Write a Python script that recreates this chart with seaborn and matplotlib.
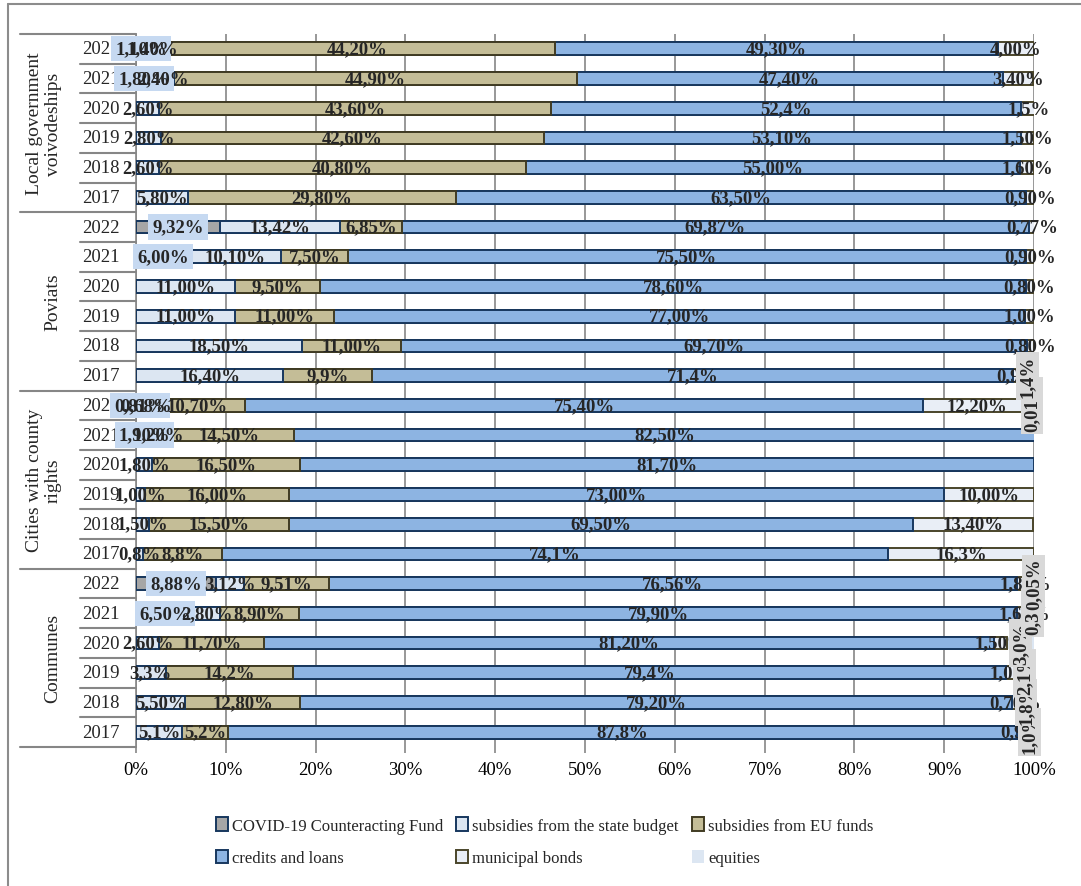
import numpy as np
import pandas as pd
import matplotlib.pyplot as plt
import matplotlib.transforms as mtransforms
from matplotlib.patches import Patch
from matplotlib.lines import Line2D
import seaborn as sns

groups = ["Local government\nvoivodeships", "Poviats", "Cities with county\nrights", "Communes"]
years = ["2022", "2021", "2020", "2019", "2018", "2017"]
series = ["COVID-19 Counteracting Fund", "subsidies from the state budget", "subsidies from EU funds",
          "credits and loans", "municipal bonds", "equities"]

# values as printed in the chart (decimal comma), rows: group x year, top to bottom
covid = ["1,10", "1,80", None, None, None, None,
         "9,32", "6,00", None, None, None, None,
         "0,81", "1,90", None, None, None, None,
         "8,88", "6,50", None, None, None, None]
state = ["1,40", "2,40", "2,60", "2,80", "2,60", "5,80",
         "13,42", "10,10", "11,00", "11,00", "18,50", "16,40",
         "0,68", "1,20", "1,80", "1,00", "1,50", "0,8",
         "3,12", "2,80", "2,60", "3,3", "5,50", "5,1"]
eu = ["44,20", "44,90", "43,60", "42,60", "40,80", "29,80",
      "6,85", "7,50", "9,50", "11,00", "11,00", "9,9",
      "10,70", "14,50", "16,50", "16,00", "15,50", "8,8",
      "9,51", "8,90", "11,70", "14,2", "12,80", "5,2"]
credits = ["49,30", "47,40", "52,4", "53,10", "55,00", "63,50",
           "69,87", "75,50", "78,60", "77,00", "69,70", "71,4",
           "75,40", "82,50", "81,70", "73,00", "69,50", "74,1",
           "76,56", "79,90", "81,20", "79,4", "79,20", "87,8"]
bonds = ["4,00", "3,40", "1,5", "1,50", "1,60", "0,90",
         "0,77", "0,90", "0,80", "1,00", "0,80", "0,9",
         "12,20", None, None, "10,00", "13,40", "16,3",
         "1,88", "1,60", "1,50", "1,0", "0,70", "0,9"]
equities = [None, None, None, None, None, None,
            None, None, None, None, None, "1,4",
            "0,01", None, None, None, None, None,
            "0,05", "0,3", "3,0", "2,1", "1,8", "1,0"]

labels = [covid, state, eu, credits, bonds, equities]
fills = ["#a6a6a6", "#dce6f2", "#c4bd97", "#8db4e2", "#e9eef6", "#dce6f2"]
edges = ["#17375e", "#17375e", "#403b22", "#17375e", "#4a452a", "none"]

rows = [f"{g}|{y}" for g in groups for y in years]
vals = np.array([[float(s.replace(",", ".")) if s else 0.0 for s in lab] for lab in labels]).T
cum = np.cumsum(vals, axis=1)
df = pd.DataFrame({"row": rows})
for k in range(6):
    df[f"cum{k}"] = cum[:, k]

sns.set_theme(style="white")
plt.rcParams["font.family"] = ["Liberation Serif", "DejaVu Serif"]

W, H = 1081, 887
fig = plt.figure(figsize=(W / 100, H / 100), dpi=100)
ax = fig.add_axes([136 / W, 1 - 748 / H, 898 / W, 713 / H])

# stacked bars: draw cumulative totals from the last series back to the first
for k in reversed(range(6)):
    sns.barplot(data=df, x=f"cum{k}", y="row", order=rows, orient="h", color=fills[k],
                edgecolor=edges[k], linewidth=0 if edges[k] == "none" else 1.4,
                width=0.43, saturation=1, errorbar=None, ax=ax, zorder=3)

ax.set_xlim(0, 100)
ax.set_ylim(23.5, -0.5)
ax.set_xticks(np.arange(0, 101, 10))
ax.set_xticklabels([f"{t}%" for t in range(0, 101, 10)])
ax.set_yticks([])
ax.set_xlabel("")
ax.set_ylabel("")
ax.set_axisbelow(True)
ax.xaxis.grid(True, color="#868686", linewidth=1.2)
ax.tick_params(axis="x", bottom=True, length=4, width=1.2, color="#868686",
               labelsize=13.5, pad=6, labelcolor="black")
sns.despine(ax=ax, top=True, right=True, bottom=True, left=False)
ax.spines["left"].set_color("#868686")
ax.spines["left"].set_linewidth(1.2)

# segment labels
for i in range(24):
    for k in range(5):
        s = labels[k][i]
        if s is None:
            continue
        xc = cum[i, k] - vals[i, k] / 2
        if k == 0:
            ax.text(xc, i, s + "%", ha="center", va="center", fontsize=13.5, fontweight="bold",
                    bbox=dict(facecolor="#c6d9f1", edgecolor="none", pad=3), zorder=5)
        else:
            ax.text(xc, i, s + "%", ha="center", va="center", fontsize=13.5, fontweight="bold", zorder=6)
for i in reversed(range(24)):
    s = equities[i]
    if s is None:
        continue
    xc = cum[i, 5] - vals[i, 5] / 2
    ax.text(xc, i, s + "%", ha="center", va="center", rotation=90, fontsize=13.5, fontweight="bold",
            bbox=dict(facecolor="#d9d9d9", edgecolor="none", pad=2), zorder=7)

# grouped category axis
trans = mtransforms.blended_transform_factory(ax.transAxes, ax.transData)
for i in range(24):
    ax.text(-0.0601, i, years[i % 6], transform=trans, ha="left", va="center", fontsize=13.5)
for b in range(25):
    x0 = -0.129 if b % 6 == 0 else -0.0624
    ax.plot([x0, 0], [b - 0.5, b - 0.5], transform=trans, color="#868686", lw=1.5, clip_on=False)
for g, name in enumerate(groups):
    gx = -0.1024 if "\n" in name else -0.0924
    ax.text(gx, 6 * g + 2.5, name, transform=trans, rotation=90, ha="center", va="center",
            fontsize=14, linespacing=1.1)

# legend laid out as 3 columns, row-wise like the original
handles = [Patch(facecolor=fills[k], edgecolor=edges[k], linewidth=0 if edges[k] == "none" else 1.4)
           for k in range(6)]
order = [0, 3, 1, 4, 2, 5]
fig.legend([handles[k] for k in order], [series[k] for k in order], ncol=3, loc="upper left",
           bbox_to_anchor=(216 / W, 1 - 818 / H), frameon=False, fontsize=12,
           handlelength=0.7, handleheight=0.9, handletextpad=0.25, columnspacing=0.8,
           labelspacing=0.95, borderaxespad=0, borderpad=0)

# outer frame
fig.add_artist(Line2D([8 / W, 8 / W], [0, 1 - 5 / H], transform=fig.transFigure, color="#8c8c8c", lw=1.5))
fig.add_artist(Line2D([8 / W, 1], [1 - 5 / H, 1 - 5 / H], transform=fig.transFigure, color="#8c8c8c", lw=1.5))

fig.savefig("out.png", dpi=100)
